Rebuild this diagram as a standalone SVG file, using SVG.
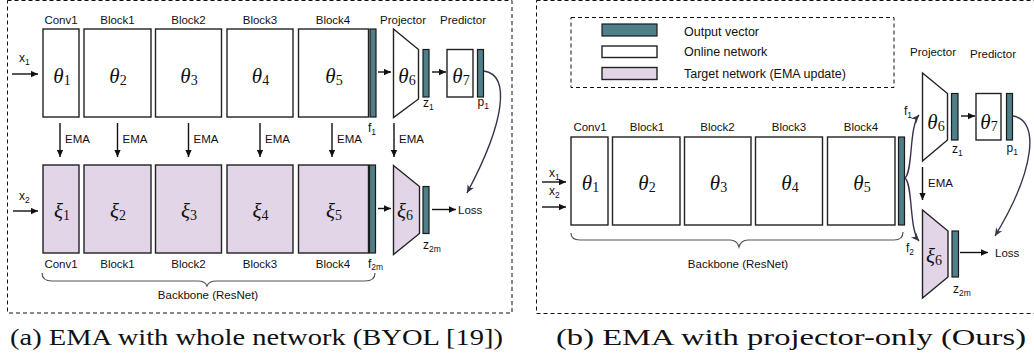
<svg xmlns="http://www.w3.org/2000/svg" width="1034" height="358" viewBox="0 0 1034 358">
<style>
.lbl{font-family:"Liberation Sans",Arial,sans-serif;font-size:11.5px;fill:#111}
.sm{font-family:"Liberation Sans",Arial,sans-serif;font-size:12px;fill:#111}
.sb{font-size:8.5px}
.gk{font-family:"Liberation Serif","DejaVu Serif",serif;font-style:italic;font-size:21px;fill:#111}
.gs{font-style:normal;font-size:14px}
.box{fill:#fff;stroke:#222;stroke-width:1.4}
.tgt{fill:#e1d5e7;stroke:#222;stroke-width:1.4}
.vec{fill:#4f7f88;stroke:#1a1a1a;stroke-width:1.2}
.dash{fill:none;stroke:#111;stroke-width:1;stroke-dasharray:4 3}
.arr{stroke:#111;stroke-width:1.4;fill:none;marker-end:url(#ah)}
.crv{stroke:#34344e;stroke-width:1.4;fill:none;marker-end:url(#ah2)}
.brace{stroke:#555;stroke-width:1.2;fill:none}
.cap{font-family:"Liberation Serif","DejaVu Serif",serif;font-size:23px;fill:#111}
.leg{font-family:"Liberation Sans",Arial,sans-serif;font-size:12.5px;fill:#111}
</style>
<defs>
<marker id="ah" viewBox="0 0 10 10" refX="10" refY="5" markerWidth="8" markerHeight="7" markerUnits="userSpaceOnUse" orient="auto"><path d="M0,0.5 L10,5 L0,9.5 Z" fill="#111"/></marker>
<marker id="ah2" viewBox="0 0 10 10" refX="10" refY="5" markerWidth="10" markerHeight="8" markerUnits="userSpaceOnUse" orient="auto"><path d="M0,0.5 L10,5 L0,9.5 L3,5 Z" fill="#34344e"/></marker>
</defs>

<!-- Panel (a) -->
<g id="panel-a">
<rect class="dash" x="7.5" y="0.5" width="504.5" height="312.5"/>
</g>
<g id="a-labels-top">
<text class="lbl" x="61" y="24" text-anchor="middle">Conv1</text>
<text class="lbl" x="117.5" y="24" text-anchor="middle">Block1</text>
<text class="lbl" x="188.5" y="24" text-anchor="middle">Block2</text>
<text class="lbl" x="260" y="24" text-anchor="middle">Block3</text>
<text class="lbl" x="333" y="24" text-anchor="middle">Block4</text>
<text class="lbl" x="403" y="24" text-anchor="middle">Projector</text>
<text class="lbl" x="463" y="24" text-anchor="middle">Predictor</text>
</g>
<g id="a-online-conv1"><rect class="box" x="43" y="29" width="36" height="88"/><text class="gk" x="62" y="83" text-anchor="middle">θ<tspan class="gs" dy="2">1</tspan></text></g>
<g id="a-online-block1"><rect class="box" x="84" y="29" width="67" height="88"/><text class="gk" x="118" y="83" text-anchor="middle">θ<tspan class="gs" dy="2">2</tspan></text></g>
<g id="a-online-block2"><rect class="box" x="155.5" y="29" width="66" height="88"/><text class="gk" x="189" y="83" text-anchor="middle">θ<tspan class="gs" dy="2">3</tspan></text></g>
<g id="a-online-block3"><rect class="box" x="227" y="29" width="66" height="88"/><text class="gk" x="260.5" y="83" text-anchor="middle">θ<tspan class="gs" dy="2">4</tspan></text></g>
<g id="a-online-block4"><rect class="box" x="298.5" y="29" width="70" height="88"/><text class="gk" x="334" y="83" text-anchor="middle">θ<tspan class="gs" dy="2">5</tspan></text></g>
<g id="a-f1"><rect class="vec" x="370" y="29" width="6" height="88"/><text class="sm" x="368" y="132">f<tspan class="sb" dy="3">1</tspan></text></g>
<g id="a-projector-online"><polygon class="box" points="393.5,29 418.5,49.5 418.5,99 393.5,117.5"/><text class="gk" x="407" y="83" text-anchor="middle">θ<tspan class="gs" dy="2">6</tspan></text></g>
<g id="a-z1"><rect class="vec" x="423" y="49.5" width="6" height="47.5"/><text class="sm" x="423" y="107">z<tspan class="sb" dy="3">1</tspan></text></g>
<g id="a-predictor"><rect class="box" x="447" y="49.5" width="26" height="47.5"/><text class="gk" x="461" y="83" text-anchor="middle">θ<tspan class="gs" dy="2">7</tspan></text></g>
<g id="a-p1"><rect class="vec" x="477.5" y="49.5" width="6" height="47.5"/><text class="sm" x="477.5" y="106">p<tspan class="sb" dy="3">1</tspan></text></g>

<g id="a-target-conv1"><rect class="tgt" x="43" y="165" width="36" height="88"/><text class="gk" x="62" y="218" text-anchor="middle">ξ<tspan class="gs" dy="2">1</tspan></text></g>
<g id="a-target-block1"><rect class="tgt" x="84" y="165" width="67" height="88"/><text class="gk" x="118" y="218" text-anchor="middle">ξ<tspan class="gs" dy="2">2</tspan></text></g>
<g id="a-target-block2"><rect class="tgt" x="155.5" y="165" width="66" height="88"/><text class="gk" x="189" y="218" text-anchor="middle">ξ<tspan class="gs" dy="2">3</tspan></text></g>
<g id="a-target-block3"><rect class="tgt" x="227" y="165" width="66" height="88"/><text class="gk" x="260.5" y="218" text-anchor="middle">ξ<tspan class="gs" dy="2">4</tspan></text></g>
<g id="a-target-block4"><rect class="tgt" x="298.5" y="165" width="70" height="88"/><text class="gk" x="334" y="218" text-anchor="middle">ξ<tspan class="gs" dy="2">5</tspan></text></g>
<g id="a-f2m"><rect class="vec" x="369.5" y="165" width="6" height="88"/><text class="sm" x="368" y="268">f<tspan class="sb" dy="2">2m</tspan></text></g>
<g id="a-projector-target"><polygon class="tgt" points="393.5,165.5 419.5,186.5 419.5,233.5 393.5,254.5"/><text class="gk" x="405" y="218" text-anchor="middle">ξ<tspan class="gs" dy="2">6</tspan></text></g>
<g id="a-z2m"><rect class="vec" x="423" y="186.5" width="6" height="47"/><text class="sm" x="423" y="249">z<tspan class="sb" dy="3">2m</tspan></text></g>
<g id="a-loss"><text class="lbl" x="458" y="213.5">Loss</text></g>
<g id="a-labels-bottom">
<text class="lbl" x="61" y="268" text-anchor="middle">Conv1</text>
<text class="lbl" x="117.5" y="268" text-anchor="middle">Block1</text>
<text class="lbl" x="188.5" y="268" text-anchor="middle">Block2</text>
<text class="lbl" x="260" y="268" text-anchor="middle">Block3</text>
<text class="lbl" x="333" y="268" text-anchor="middle">Block4</text>
</g>
<g id="a-inputs">
<text class="sm" x="19" y="62">x<tspan class="sb" dy="3">1</tspan></text>
<text class="sm" x="19" y="200">x<tspan class="sb" dy="3">2</tspan></text>
</g>
<g id="a-ema-labels">
<text class="lbl" x="65" y="142.5">EMA</text>
<text class="lbl" x="122.5" y="142.5">EMA</text>
<text class="lbl" x="193.5" y="142.5">EMA</text>
<text class="lbl" x="265" y="142.5">EMA</text>
<text class="lbl" x="337" y="142.5">EMA</text>
<text class="lbl" x="399" y="142.5">EMA</text>
</g>
<g id="a-backbone">
<path class="brace" d="M42,273 Q42,281 52,281 L198,281 Q205,281 207,286 Q209,281 216,281 L365,281 Q375,281 375,273"/>
<text class="lbl" x="208" y="299" text-anchor="middle">Backbone (ResNet)</text>
</g>
<g id="a-connectors">
<line class="arr" x1="12" y1="74" x2="38" y2="74"/>
<line class="arr" x1="13" y1="211" x2="38" y2="211"/>
<line class="arr" x1="60" y1="123" x2="60" y2="157"/>
<line class="arr" x1="117.5" y1="123" x2="117.5" y2="157"/>
<line class="arr" x1="188.5" y1="123" x2="188.5" y2="157"/>
<line class="arr" x1="260" y1="123" x2="260" y2="157"/>
<line class="arr" x1="332" y1="123" x2="332" y2="157"/>
<line class="arr" x1="394" y1="123" x2="394" y2="157"/>
<line class="arr" x1="378" y1="72" x2="391" y2="72"/>
<line class="arr" x1="432" y1="72" x2="446" y2="72"/>
<line class="arr" x1="378" y1="208.5" x2="391" y2="208.5"/>
<line class="arr" x1="432" y1="209.5" x2="456" y2="209.5"/>
<path class="crv" d="M484,71 C510,75 506,120 467,193"/>
</g>
<text class="cap" x="10" y="345" textLength="493" lengthAdjust="spacingAndGlyphs">(a) EMA with whole network (BYOL [19])</text>

<!-- Panel (b) -->
<g id="panel-b">
<rect class="dash" x="536.5" y="0.5" width="500" height="313"/>
</g>
<g id="legend">
<rect class="dash" x="571" y="17.5" width="323" height="70"/>
<rect class="vec" x="602" y="24" width="55" height="12"/>
<rect class="box" x="602" y="46" width="55" height="11.5"/>
<rect class="tgt" x="602" y="67.5" width="55" height="12"/>
<text class="leg" x="684" y="36">Output vector</text>
<text class="leg" x="684" y="56">Online network</text>
<text class="leg" x="684" y="77.5">Target network (EMA update)</text>
</g>
<g id="b-labels-top">
<text class="lbl" x="590" y="131" text-anchor="middle">Conv1</text>
<text class="lbl" x="647" y="131" text-anchor="middle">Block1</text>
<text class="lbl" x="717.5" y="131" text-anchor="middle">Block2</text>
<text class="lbl" x="789" y="131" text-anchor="middle">Block3</text>
<text class="lbl" x="861" y="131" text-anchor="middle">Block4</text>
<text class="lbl" x="933" y="56" text-anchor="middle">Projector</text>
<text class="lbl" x="993" y="58" text-anchor="middle">Predictor</text>
</g>
<g id="b-conv1"><rect class="box" x="571" y="137" width="37" height="88"/><text class="gk" x="590.5" y="190" text-anchor="middle">θ<tspan class="gs" dy="2">1</tspan></text></g>
<g id="b-block1"><rect class="box" x="612.5" y="137" width="67.5" height="88"/><text class="gk" x="647" y="190" text-anchor="middle">θ<tspan class="gs" dy="2">2</tspan></text></g>
<g id="b-block2"><rect class="box" x="684.5" y="137" width="66.5" height="88"/><text class="gk" x="718.5" y="190" text-anchor="middle">θ<tspan class="gs" dy="2">3</tspan></text></g>
<g id="b-block3"><rect class="box" x="755.5" y="137" width="67" height="88"/><text class="gk" x="790" y="190" text-anchor="middle">θ<tspan class="gs" dy="2">4</tspan></text></g>
<g id="b-block4"><rect class="box" x="827.5" y="137" width="67.5" height="88"/><text class="gk" x="862" y="190" text-anchor="middle">θ<tspan class="gs" dy="2">5</tspan></text></g>
<g id="b-f"><rect class="vec" x="898.5" y="137" width="6" height="88"/>
<text class="sm" x="904" y="115">f<tspan class="sb" dy="3">1</tspan></text>
<text class="sm" x="906" y="252">f<tspan class="sb" dy="3">2</tspan></text></g>
<g id="b-projector-online"><polygon class="box" points="922.5,73 947.5,93.5 947.5,140 922.5,161"/><text class="gk" x="936" y="129" text-anchor="middle">θ<tspan class="gs" dy="2">6</tspan></text></g>
<g id="b-z1"><rect class="vec" x="951.5" y="93.5" width="6.5" height="46.5"/><text class="sm" x="952" y="153">z<tspan class="sb" dy="3">1</tspan></text></g>
<g id="b-predictor"><rect class="box" x="976" y="93.5" width="25" height="46.5"/><text class="gk" x="989" y="129" text-anchor="middle">θ<tspan class="gs" dy="2">7</tspan></text></g>
<g id="b-p1"><rect class="vec" x="1006.5" y="93.5" width="6" height="46.5"/><text class="sm" x="1006.5" y="152">p<tspan class="sb" dy="3">1</tspan></text></g>
<g id="b-projector-target"><polygon class="tgt" points="922.5,210 948,231 948,277 922.5,298"/><text class="gk" x="934" y="263" text-anchor="middle">ξ<tspan class="gs" dy="2">6</tspan></text></g>
<g id="b-z2m"><rect class="vec" x="952" y="231" width="6.5" height="46"/><text class="sm" x="953" y="293">z<tspan class="sb" dy="3">2m</tspan></text></g>
<g id="b-loss"><text class="lbl" x="995" y="257">Loss</text></g>
<g id="b-inputs">
<text class="sm" x="549" y="177">x<tspan class="sb" dy="3">1</tspan></text>
<text class="sm" x="549" y="195">x<tspan class="sb" dy="3">2</tspan></text>
</g>
<text class="lbl" x="928" y="187">EMA</text>
<g id="b-backbone">
<path class="brace" d="M571,233 Q571,240 580,240 L730,240 Q737,240 739,247 Q741,240 748,240 L894,240 Q903,240 903,232"/>
<text class="lbl" x="738" y="268" text-anchor="middle">Backbone (ResNet)</text>
</g>
<g id="b-connectors">
<line class="arr" x1="542" y1="182" x2="566" y2="182"/>
<line class="arr" x1="542" y1="207" x2="566" y2="207"/>
<path class="crv" d="M905,178 C913,172 909,126 919,115"/>
<path class="crv" d="M905,178 C913,184 909,230 919,241"/>
<line class="arr" x1="922.5" y1="167" x2="922.5" y2="200"/>
<line class="arr" x1="961" y1="116" x2="975" y2="116"/>
<line class="arr" x1="960" y1="252.5" x2="988" y2="252.5"/>
<path class="crv" d="M1013,116 C1040,120 1035,170 995,236"/>
</g>
<text class="cap" x="556" y="345" textLength="470" lengthAdjust="spacingAndGlyphs">(b) EMA with projector-only (Ours)</text>
</svg>
